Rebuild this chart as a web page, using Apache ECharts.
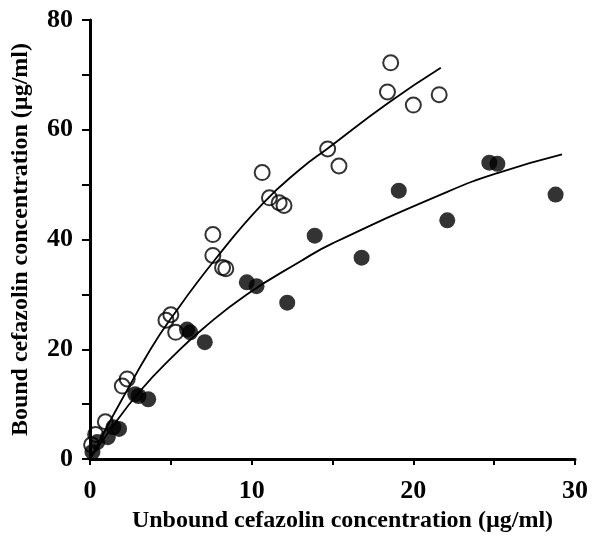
<!DOCTYPE html>
<html>
<head>
<meta charset="utf-8">
<script src="https://cdn.jsdelivr.net/npm/echarts@6/dist/echarts.min.js"></script>
<style>
  html, body { margin: 0; padding: 0; background: #fff; }
  #chart { width: 605px; height: 538px; }
</style>
</head>
<body>
<div id="chart"></div>
<script>
// open circles (first group)
const openX = [0.1, 0.35, 0.95, 2.0, 2.3, 4.7, 5.0, 5.3, 7.6, 7.6, 8.2, 8.4, 10.65, 11.1, 11.7, 12.0, 14.7, 15.4, 18.4, 18.6, 20.0, 21.6]
const openY = [2.6, 4.5, 6.8, 13.3, 14.6, 25.3, 26.3, 23.1, 40.9, 37.1, 34.9, 34.7, 52.2, 47.6, 46.7, 46.2, 56.5, 53.4, 66.9, 72.2, 64.5, 66.4]
// filled circles (second group)
const fillX = [0.15, 0.45, 1.1, 1.45, 1.8, 2.8, 3.0, 3.6, 6.0, 6.2, 7.1, 9.7, 10.3, 12.2, 13.9, 16.8, 19.1, 22.1, 24.7, 25.2, 28.8]
const fillY = [1.3, 3.1, 4.0, 5.8, 5.5, 11.8, 11.5, 10.9, 23.6, 23.1, 21.3, 32.2, 31.5, 28.5, 40.7, 36.7, 48.9, 43.5, 54.0, 53.8, 48.2]
// fitted curves
const upperX = [0, 1, 2, 3.7, 5.0, 7.75, 10.7, 13.0, 14.7, 18.4, 21.7]
const upperY = [0, 5.6, 11.0, 19.8, 25.6, 36.4, 46.6, 52.8, 56.6, 64.8, 71.3]
const lowerX = [0, 1, 3.1, 5.3, 7.0, 9.7, 13.0, 15.0, 22.1, 25.3, 29.2]
const lowerY = [0, 4.3, 12.4, 19.2, 23.8, 30.0, 36.0, 39.3, 48.7, 52.2, 55.5]
const xTicks = [0, 10, 20, 30]
const yTicks = [0, 20, 40, 60, 80]

function pairs(xs, ys) {
    return xs.map((x, i) => [x, ys[i]])
}

const font = 'Liberation Serif'
const chart = echarts.init(document.getElementById('chart'))
chart.setOption({
    animation: false,
    grid: { left: 90, right: 30, top: 20, bottom: 78 },
    xAxis: {
        type: 'value', min: 0, max: 30, interval: 5,
        name: 'Unbound cefazolin concentration (µg/ml)',
        nameLocation: 'middle', nameGap: 48,
        nameTextStyle: { fontFamily: font, fontWeight: 'bold', fontSize: 24, color: '#000', padding: [0, 0, 0, 20] },
        axisLine: { lineStyle: { color: '#000', width: 3 } },
        axisTick: { length: 6, lineStyle: { color: '#000', width: 2 } },
        axisLabel: {
            margin: 19, fontFamily: font, fontWeight: 'bold', fontSize: 26, color: '#000',
            formatter: v => xTicks.includes(v) ? String(v) : ''
        },
        splitLine: { show: false }
    },
    yAxis: {
        type: 'value', min: 0, max: 80, interval: 10,
        name: 'Bound cefazolin concentration (µg/ml)',
        nameLocation: 'middle', nameGap: 57,
        nameTextStyle: { fontFamily: font, fontWeight: 'bold', fontSize: 24, color: '#000' },
        axisLine: { show: true, lineStyle: { color: '#000', width: 3 } },
        axisTick: { show: true, length: 8, lineStyle: { color: '#000', width: 2 } },
        axisLabel: {
            margin: 17, fontFamily: font, fontWeight: 'bold', fontSize: 26, color: '#000',
            formatter: v => yTicks.includes(v) ? String(v) : ''
        },
        splitLine: { show: false }
    },
    series: [
        {
            type: 'line', data: pairs(upperX, upperY), smooth: true, symbol: 'none',
            lineStyle: { color: '#000', width: 1.8 }, z: 2
        },
        {
            type: 'line', data: pairs(lowerX, lowerY), smooth: true, symbol: 'none',
            lineStyle: { color: '#000', width: 1.8 }, z: 2
        },
        {
            type: 'scatter', data: pairs(openX, openY), symbol: 'circle', symbolSize: 15,
            itemStyle: { color: 'rgba(255,255,255,0)', borderColor: '#000', borderWidth: 2 }, z: 3
        },
        {
            type: 'scatter', data: pairs(fillX, fillY), symbol: 'circle', symbolSize: 16,
            itemStyle: { color: '#000' }, z: 4
        }
    ]
})
</script>
</body>
</html>
